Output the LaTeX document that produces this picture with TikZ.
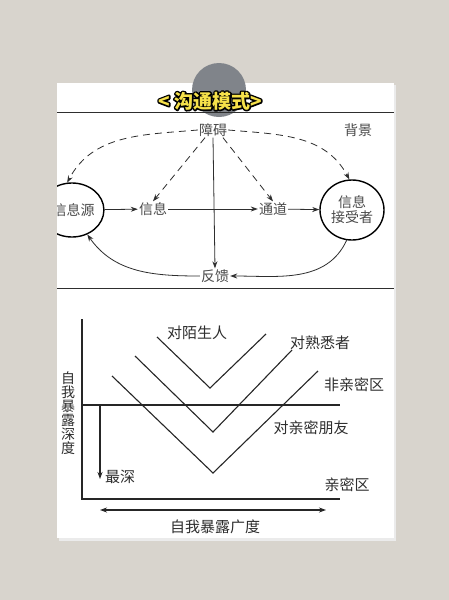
\documentclass[tikz,border=0pt]{standalone}
\usepackage{fontspec}
\newfontfamily\cjk{Noto Sans CJK SC}
\usetikzlibrary{arrows.meta,shapes.geometric}

\definecolor{wallbg}{HTML}{D8D4CD}
\definecolor{pingray}{HTML}{80848A}
\definecolor{txtgray}{HTML}{4A4A4A}
\definecolor{inkgray}{HTML}{2E2E2E}
\definecolor{titleyel}{HTML}{F6E14A}

% outlined title text: black stroke below, yellow fill on top
\newcommand{\outlined}[1]{%
  \rlap{\color{black}\special{pdf:literal direct 0 0 0 RG 3 w 1 j 1 Tr}#1\special{pdf:literal direct 0 Tr}}%
  {\color{titleyel}#1}}

\tikzset{
  lbl/.style={font=\cjk\fontsize{14}{15}\selectfont, text=txtgray, inner sep=1pt},
  blbl/.style={font=\cjk\fontsize{15}{16}\selectfont, text=inkgray, inner sep=1pt},
  arr/.style={-{Stealth[length=7pt,width=5pt]}, draw=inkgray, line width=.8pt},
  dsh/.style={arr, dash pattern=on 7pt off 5pt},
  vline/.style={draw=black!85, line width=1.1pt},
}

\begin{document}
\begin{tikzpicture}[x=1pt,y=-1pt]
\useasboundingbox (0,0) rectangle (449,600);
\fill[wallbg] (0,0) rectangle (449,600);

% paper
\fill[black!8] (59,85) rectangle (396,541);
\fill[white] (57,83) rectangle (394,538);
\fill[pingray] (219,90) circle (27);

% title
\node (title) [font=\cjk\bfseries\fontsize{19}{20}\selectfont] at (210,101) {\outlined{<\ 沟通模式>}};

\draw[inkgray, line width=.8pt] (57,112) -- (394,112);
\draw[inkgray, line width=.8pt] (57,288) -- (394,288);

%% communication model
\begin{scope}
\clip (57,112) rectangle (394,288);
\node (bar) [lbl] at (213,130) {障碍};
\node (bg)  [lbl] at (358,130) {背景};
\node (src) [lbl, ellipse, draw=black, line width=1.4pt, minimum width=62pt, minimum height=54pt, inner sep=0pt] at (72,210) {\ 信息源};
\node (msg) [lbl] at (153,209) {信息};
\node (chn) [lbl] at (273,209) {通道};
\node (rcv) [lbl, ellipse, draw=black, line width=1.4pt, minimum width=64pt, minimum height=60pt, inner sep=0pt, align=center] at (352,210) {信息\\接受者};
\node (fb)  [lbl] at (215,276) {反馈};

\draw[arr] (src) -- (msg);
\draw[arr] (msg) -- (chn);
\draw[arr] (chn) -- (rcv);
\draw[arr] (bar.south) -- (fb.north);

\draw[dsh] (bar.west) to[out=185,in=62] (src.100);
\draw[dsh] (bar.east) to[out=-5,in=118] (rcv.95);
\draw[dsh] ([xshift=-8pt]bar.south) -- (msg.north);
\draw[dsh] ([xshift=10pt]bar.south) -- (chn.north);

\draw[arr] (rcv.-100) to[out=245,in=0] (fb.east);
\draw[arr] (fb.west) to[out=180,in=-55] (src.-58);
\end{scope}

%% self disclosure
\coordinate (o) at (82,499);
\draw[vline] (82,319) -- (o) -- (340,499);
\draw[vline] (82,405) -- (340,405);

\coordinate (deep0) at (100,405);
\coordinate (deep1) at (100,479);
\draw[-{Stealth[length=7pt,width=5pt]}, vline] (deep0) -- (deep1);
\node (deep) [blbl, anchor=west] at (104,477) {最深};

\coordinate (wl) at (100,510);
\coordinate (wr) at (326,510);
\draw[{Stealth[length=7pt,width=5pt]}-{Stealth[length=7pt,width=5pt]}, vline] (wl) -- (wr);
\node (width) [blbl] at (215,527) {自我暴露广度};
\node (depth) [blbl, align=center, font=\cjk\fontsize{14}{14}\selectfont] at (68,413) {自\\我\\暴\\露\\深\\度};

\draw[vline] (157,337) -- (210,388) -- (266,334);
\draw[vline] (135,356) -- (213,432) -- (292,350);
\draw[vline] (112,376) -- (213,473) -- (318,371);

\node (strg) [blbl] at (197,333) {对陌生人};
\node (fam)  [blbl] at (320,343) {对熟悉者};
\node (nonz) [blbl] at (354,385) {非亲密区};
\node (frd)  [blbl] at (311,428) {对亲密朋友};
\node (intz) [blbl] at (347,485) {亲密区};
\end{tikzpicture}
\end{document}
